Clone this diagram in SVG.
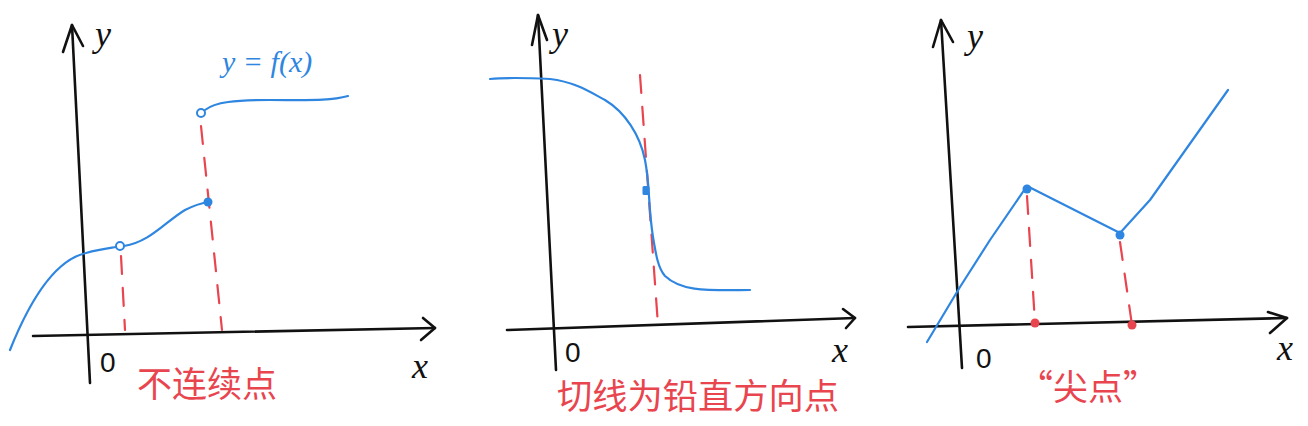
<svg xmlns="http://www.w3.org/2000/svg" width="1308" height="426" viewBox="0 0 1308 426">
<style>
.ax{fill:none;stroke:#111;stroke-width:2.6;stroke-linecap:round;stroke-linejoin:round}
.cv{fill:none;stroke:#2f86e0;stroke-width:2.2;stroke-linecap:round;stroke-linejoin:round}
.dash{fill:none;stroke:#e8454f;stroke-width:2.2;stroke-dasharray:18 14;stroke-linecap:round}
.lbl{font-family:"Liberation Serif",serif;font-style:italic;font-size:36px;fill:#111}
.zero{font-family:"Liberation Sans",sans-serif;font-size:28px;fill:#111}
.red{font-family:"Noto Sans CJK SC",sans-serif;font-size:35px;fill:#e8454f}
.blue{font-family:"Liberation Serif",serif;font-style:italic;font-size:30px;fill:#2f86e0}
</style>
<rect width="1308" height="426" fill="#fff"/>
<g id="panel1">
  <g id="axes1">
    <path class="ax" d="M90,383 L72,25"/>
    <path class="ax" d="M63,52 L72,25 L83,46"/>
    <path class="ax" d="M33,336 L435,328"/>
    <path class="ax" d="M423,318 L435,328 L421,340"/>
    <text class="lbl" x="95" y="46">y</text>
    <text class="lbl" x="412" y="378">x</text>
    <text class="zero" x="100" y="372">0</text>
  </g>
  <g id="guides1">
    <path class="dash" d="M121,256 L125,330"/>
    <path class="dash" d="M201,126 L222,330"/>
  </g>
  <g id="curve1">
    <path class="cv" d="M10,350 C30,300 55,260 86,253 C100,249 110,248 116,247"/>
    <path class="cv" d="M124,246 C150,242 165,222 185,210 C195,205 202,203 208,202"/>
    <path class="cv" d="M205,110 C215,102 235,100 270,100 C310,100 330,101 348,96"/>
    <circle cx="120" cy="246" r="4" fill="#fff" stroke="#2f86e0" stroke-width="2"/>
    <circle cx="201" cy="113" r="4" fill="#fff" stroke="#2f86e0" stroke-width="2"/>
    <circle cx="208" cy="202" r="4.5" fill="#2f86e0"/>
    <text class="blue" x="222" y="72">y = f(x)</text>
  </g>
  <text class="red" x="137" y="397">不连续点</text>
</g>
<g id="panel2">
  <g id="axes2">
    <path class="ax" d="M556,370 L538,15"/>
    <path class="ax" d="M532,45 L538,15 L547,40"/>
    <path class="ax" d="M507,330 L855,318"/>
    <path class="ax" d="M843,309 L855,318 L846,328"/>
    <text class="lbl" x="552" y="46">y</text>
    <text class="lbl" x="832" y="362">x</text>
    <text class="zero" x="565" y="362">0</text>
  </g>
  <g id="guides2">
    <path class="dash" d="M640,75 L658,325"/>
  </g>
  <g id="curve2">
    <path class="cv" d="M490,79 C510,77 530,78 550,79 C575,82 590,92 605,100 C625,112 640,135 645,160 C650,185 648,205 653,237 C656,255 658,268 665,276 C680,290 700,291 750,290"/>
    <rect x="642.5" y="186" width="7" height="9" rx="1.5" fill="#2f86e0"/>
  </g>
  <text class="red" x="557" y="409" textLength="282" lengthAdjust="spacingAndGlyphs">切线为铅直方向点</text>
</g>
<g id="panel3">
  <g id="axes3">
    <path class="ax" d="M962,368 L941,20"/>
    <path class="ax" d="M933,47 L941,20 L953,42"/>
    <path class="ax" d="M908,327 L1287,318"/>
    <path class="ax" d="M1268,312 L1287,318 L1270,333"/>
    <text class="lbl" x="967" y="48">y</text>
    <text class="lbl" x="1277" y="360">x</text>
    <text class="zero" x="976" y="368">0</text>
  </g>
  <g id="guides3">
    <path class="dash" d="M1027,196 L1035,323"/>
    <path class="dash" d="M1120,242 L1132,325"/>
    <circle cx="1035" cy="323" r="4.5" fill="#e8454f"/>
    <circle cx="1132" cy="325" r="4.5" fill="#e8454f"/>
  </g>
  <g id="curve3">
    <path class="cv" d="M927,342 L960,287 L990,240 L1027,186 L1120,233 L1150,200 L1228,90"/>
    <circle cx="1027" cy="189" r="4.5" fill="#2f86e0"/>
    <circle cx="1120" cy="235" r="4.5" fill="#2f86e0"/>
  </g>
  <text class="red" x="1018" y="400" font-size="38">“尖点”</text>
</g>
</svg>
